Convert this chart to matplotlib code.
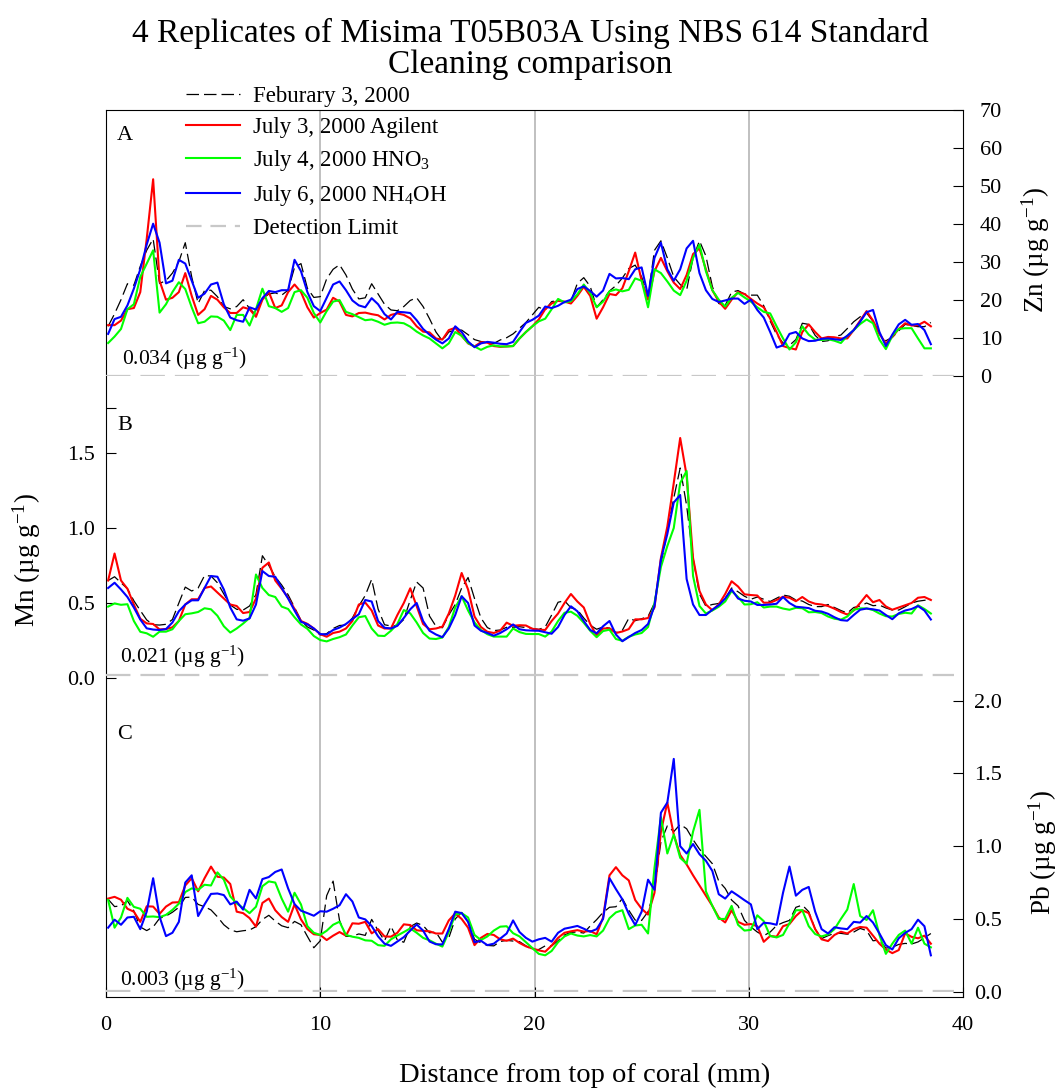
import numpy as np
import matplotlib
matplotlib.use("Agg")
from matplotlib import pyplot as plt
from matplotlib.lines import Line2D

plt.rcParams['font.family'] = ['Liberation Serif', 'DejaVu Serif']
plt.rcParams['mathtext.fontset'] = 'custom'
plt.rcParams['mathtext.rm'] = 'Liberation Serif'
plt.rcParams['mathtext.it'] = 'Liberation Serif:italic'
plt.rcParams['mathtext.bf'] = 'Liberation Serif:bold'

# sampling positions along the coral (mm)
depth = np.round(0.1 + 0.3 * np.arange(129), 1)

series_labels = ['Feburary 3, 2000', 'July 3, 2000 Agilent',
                 'July 4, 2000 HNO$_3$', 'July 6, 2000 NH$_4$OH', 'Detection Limit']

# Zn (ug/g)
zn_feb = [13, 16.3, 20, 24.2, 23.8, 28.8, 33, 36, 24.3, 25, 27, 30, 35, 26, 19, 22.4, 22.5, 20.8, 18.2, 17.6,
          18.2, 20, 17.7, 16, 20.2, 21.5, 21.8, 21.2, 22.5, 28.5, 29.5, 23, 20.6, 20.8, 25.5, 28, 29.2, 26.5, 22.8, 20.2,
          20.5, 24.2, 21.5, 18.8, 17.3, 17.1, 18.2, 19.8, 20.5, 18.2, 15, 11.5, 9.2, 11.5, 12, 12, 10.8, 9.5, 9, 8.7,
          8.5, 9.4, 10, 11, 12.5, 14, 16, 18, 17.3,
          19.5, 19.8, 19.3, 19.6, 24.3, 25.8, 23.5, 18, 20, 22.3, 23.7, 25.7, 28.2, 29.1, 26, 21, 33, 35.5, 31, 26,
          24, 22.5, 31, 35.5, 31.5, 23.5, 19, 18.5, 22, 22.4, 21.5, 21.2, 21.2, 18.4, 14.4, 10.8, 8.6, 8, 9.5, 13.8,
          13.5, 10.6, 9, 9.2, 10.3, 10.7, 12.4, 14.2, 15.5, 16.5, 14.3, 10.9, 9.2, 10.1, 11.8, 13.5, 13.2, 12.9, 12.9, 14]
zn_jul3 = [13.3, 13.3, 14.5, 17.5, 17.8, 22, 36, 51.7, 25, 20, 20.5, 22, 27, 21, 16, 17.5, 21, 20, 18, 16.5,
           16.5, 18, 17.5, 15.5, 20, 22, 17.8, 18.5, 22, 24, 22, 18, 15.3, 16.5, 17.4, 20.5, 19.5, 16, 15.6, 16.5,
           16.6, 16.2, 15.9, 14.8, 16, 16.4, 16, 15.1, 13, 11.6, 11.4, 9.8, 9.5, 12, 12.6, 10.5, 8.5, 7.7, 8.8, 8.7,
           7.8, 7.6, 7.7, 7.8, 9.8, 11.5, 13, 14.8, 17.5,
           19, 19.7, 19.5, 19, 21, 23.4, 21, 15, 18, 21.5, 21.2, 23, 27.5, 32.4, 25, 20, 27.5, 31, 27.5, 24.5,
           22.8, 26.5, 32, 33.5, 28, 22.5, 19.5, 17.6, 20, 22, 21.5, 20.2, 19, 18, 15, 11.5, 7.8, 7.3, 6.9, 11.5,
           13.5, 11.5, 9.8, 10.2, 10.1, 9.8, 9.8, 12, 14.5, 17, 14.5, 11, 8.5, 10.2, 12.3, 13.8, 13.2, 13.3, 14.2, 13]
zn_jul4 = [8.6, 10.3, 12.3, 17.5, 18.8, 26, 29.5, 33, 16.6, 18.8, 22, 24.6, 22.8, 18, 13.8, 14.2, 15.6, 15.5, 14.5, 12,
           16, 16, 13.2, 17.5, 22.9, 18.3, 17.8, 16.8, 17.8, 22, 22.5, 20.5, 16.5, 14, 17, 19.5, 19.9, 16.8, 16.2, 15.4,
           14.6, 14.8, 14.2, 13.4, 13.9, 14, 13.8, 12.9, 11.6, 10.6, 9.8, 8.5, 7.2, 8.5, 11.5, 10.5, 8.6, 7.7, 6.8, 7.6,
           8, 7.7, 7.7, 7.8, 9.8, 11.5, 13, 14.3, 15,
           17.5, 20.2, 19.3, 19.6, 21.4, 24, 21.8, 18, 19.5, 22.2, 22.7, 22.2, 22.6, 25.6, 25, 18, 28, 27, 24.8, 22.4,
           21.2, 25, 31, 34.5, 27.5, 22.5, 20, 18.2, 20.5, 21.8, 20.6, 19.5, 18, 16.8, 16.4, 13, 9.8, 6.9, 8.8, 13,
           10.8, 9.5, 9.4, 9.6, 9.2, 8.6, 10.5, 12, 13.6, 14.8, 13.8, 9.5, 7, 10.5, 12.3, 12.5, 12.5, 9.8, 7.2, 7.2]
zn_jul6 = [11, 14.9, 15.5, 18.5, 22.9, 28, 34.5, 40, 35, 24.3, 25, 30.5, 29.5, 25, 20.5, 21.6, 24, 24.5, 18.8, 15.3,
           14.6, 14.2, 18, 17.4, 20.4, 22.3, 22, 22.5, 22.5, 30.5, 27.5, 22, 18.3, 17, 20.5, 24, 24.8, 22.5, 19.8, 18.5,
           18, 20.4, 18.8, 16.2, 14.8, 16.8, 16.7, 16.5, 14.6, 12.3, 10.8, 9.5, 8.5, 9.8, 13, 11.5, 9, 7.5, 8.5, 8.9,
           8.7, 8.4, 8.3, 8.9, 11.5, 13.9, 14.7, 15.8, 18.2,
           17.8, 18.4, 19.4, 20, 22.8, 23.5, 22.3, 20.8, 22.4, 26.8, 25.6, 25.7, 25.4, 28, 28.5, 21, 31, 35, 28, 25,
           28, 33.5, 35.5, 27, 22.5, 20.2, 19.4, 19.8, 20.3, 20.3, 18.9, 20, 17.3, 15.3, 11.5, 7.4, 8, 11, 11.5, 9.8,
           9.1, 9.2, 9.7, 9.8, 9.6, 9.4, 10.5, 12, 14.2, 16.7, 17.3, 11.5, 7.8, 10.8, 13.5, 14.7, 13.4, 13.6, 12, 8.3]

# Mn (ug/g)
mn_feb = [0.65, 0.675, 0.635, 0.595, 0.515, 0.45, 0.387, 0.355, 0.353, 0.358, 0.39, 0.5, 0.606, 0.58, 0.6, 0.683, 0.68, 0.635, 0.56, 0.487,
          0.458, 0.453, 0.48, 0.557, 0.815, 0.75, 0.675, 0.62, 0.555, 0.47, 0.385, 0.34, 0.32, 0.287, 0.296, 0.33, 0.35, 0.353, 0.4, 0.48,
          0.55, 0.658, 0.46, 0.355, 0.347, 0.35, 0.39, 0.52, 0.64, 0.6, 0.413, 0.345, 0.335, 0.42, 0.49, 0.6, 0.67, 0.53, 0.4, 0.336,
          0.316, 0.32, 0.338, 0.338, 0.342, 0.336, 0.33, 0.324, 0.34,
          0.42, 0.505, 0.515, 0.468, 0.455, 0.4, 0.352, 0.325, 0.34, 0.332, 0.303, 0.318, 0.398, 0.382, 0.395, 0.41, 0.5, 0.76, 0.98, 1.2,
          1.4, 1.15, 0.8, 0.56, 0.478, 0.49, 0.497, 0.53, 0.6, 0.575, 0.545, 0.525, 0.54, 0.525, 0.51, 0.532, 0.553, 0.545, 0.52, 0.513,
          0.49, 0.476, 0.476, 0.49, 0.47, 0.45, 0.433, 0.47, 0.48, 0.5, 0.482, 0.486, 0.467, 0.453, 0.453, 0.475, 0.5, 0.512, 0.518, 0.525]
mn_jul3 = [0.65, 0.83, 0.65, 0.595, 0.49, 0.395, 0.364, 0.36, 0.324, 0.326, 0.338, 0.38, 0.49, 0.525, 0.525, 0.6, 0.61, 0.57, 0.53, 0.49,
           0.48, 0.433, 0.44, 0.53, 0.735, 0.77, 0.65, 0.595, 0.535, 0.46, 0.38, 0.361, 0.33, 0.292, 0.275, 0.3, 0.309, 0.33, 0.38, 0.49,
           0.503, 0.45, 0.35, 0.33, 0.33, 0.42, 0.5, 0.598, 0.48, 0.36, 0.325, 0.33, 0.342, 0.43, 0.55, 0.7, 0.59, 0.41, 0.34, 0.308,
           0.3, 0.316, 0.369, 0.348, 0.352, 0.35, 0.328, 0.322, 0.32,
           0.38, 0.43, 0.5, 0.56, 0.51, 0.47, 0.36, 0.283, 0.33, 0.331, 0.3, 0.31, 0.326, 0.391, 0.391, 0.4, 0.47, 0.8, 1.01, 1.3,
           1.6, 1.35, 0.8, 0.58, 0.49, 0.452, 0.49, 0.56, 0.645, 0.61, 0.558, 0.553, 0.55, 0.502, 0.502, 0.52, 0.542, 0.535, 0.512, 0.54,
           0.51, 0.495, 0.49, 0.48, 0.462, 0.44, 0.423, 0.45, 0.5, 0.553, 0.505, 0.52, 0.477, 0.455, 0.47, 0.485, 0.5, 0.535, 0.54, 0.52]
mn_jul4 = [0.476, 0.497, 0.488, 0.492, 0.38, 0.308, 0.298, 0.275, 0.309, 0.309, 0.325, 0.38, 0.425, 0.431, 0.44, 0.465, 0.458, 0.415, 0.345, 0.303,
           0.33, 0.363, 0.4, 0.69, 0.6, 0.553, 0.54, 0.476, 0.46, 0.405, 0.357, 0.328, 0.28, 0.253, 0.244, 0.26, 0.272, 0.29, 0.35, 0.405,
           0.413, 0.33, 0.282, 0.28, 0.315, 0.36, 0.453, 0.431, 0.37, 0.3, 0.263, 0.26, 0.27, 0.34, 0.47, 0.545, 0.45, 0.37, 0.32, 0.292,
           0.276, 0.276, 0.276, 0.33, 0.306, 0.294, 0.293, 0.293, 0.276,
           0.31, 0.38, 0.435, 0.442, 0.415, 0.368, 0.315, 0.272, 0.313, 0.322, 0.26, 0.248, 0.275, 0.29, 0.3, 0.34, 0.5, 0.74, 0.88, 1.0,
           1.3, 1.38, 0.68, 0.48, 0.43, 0.45, 0.475, 0.51, 0.58, 0.54, 0.49, 0.492, 0.505, 0.47, 0.476, 0.476, 0.463, 0.455, 0.468, 0.465,
           0.438, 0.44, 0.433, 0.41, 0.395, 0.389, 0.41, 0.455, 0.464, 0.464, 0.453, 0.43, 0.412, 0.41, 0.427, 0.435, 0.43, 0.485, 0.46, 0.43]
mn_jul6 = [0.6, 0.635, 0.59, 0.54, 0.47, 0.39, 0.331, 0.323, 0.32, 0.326, 0.37, 0.445, 0.49, 0.518, 0.518, 0.6, 0.68, 0.675, 0.59, 0.47,
           0.391, 0.382, 0.397, 0.49, 0.713, 0.68, 0.675, 0.6, 0.53, 0.45, 0.375, 0.358, 0.33, 0.293, 0.29, 0.32, 0.336, 0.36, 0.393, 0.425,
           0.52, 0.51, 0.38, 0.335, 0.33, 0.348, 0.4, 0.458, 0.5, 0.38, 0.315, 0.29, 0.272, 0.33, 0.42, 0.545, 0.5, 0.35, 0.315, 0.3,
           0.282, 0.3, 0.325, 0.357, 0.325, 0.318, 0.316, 0.315, 0.305,
           0.295, 0.34, 0.42, 0.478, 0.445, 0.38, 0.32, 0.298, 0.345, 0.38, 0.29, 0.245, 0.273, 0.3, 0.32, 0.36, 0.48, 0.79, 0.96, 1.17,
           1.22, 0.66, 0.49, 0.42, 0.42, 0.455, 0.485, 0.53, 0.59, 0.53, 0.515, 0.51, 0.487, 0.487, 0.49, 0.495, 0.54, 0.5, 0.475, 0.471,
           0.466, 0.448, 0.443, 0.428, 0.405, 0.386, 0.382, 0.42, 0.455, 0.463, 0.458, 0.45, 0.42, 0.392, 0.431, 0.45, 0.46, 0.48, 0.45, 0.39]

# Pb (ug/g)
pb_feb = [0.635, 0.585, 0.59, 0.625, 0.555, 0.445, 0.42, 0.445, 0.504, 0.52, 0.546, 0.58, 0.648, 0.65, 0.6, 0.584, 0.562, 0.515, 0.46, 0.425,
          0.412, 0.419, 0.424, 0.447, 0.496, 0.525, 0.485, 0.453, 0.44, 0.483, 0.46, 0.38, 0.302, 0.35, 0.66, 0.76, 0.49, 0.38, 0.382, 0.397,
          0.387, 0.497, 0.42, 0.35, 0.45, 0.355, 0.34, 0.447, 0.472, 0.455, 0.405, 0.41, 0.34, 0.37, 0.5, 0.545, 0.48, 0.36, 0.336, 0.318,
          0.315, 0.345, 0.353, 0.348, 0.344, 0.315, 0.288, 0.29, 0.315,
          0.315, 0.35, 0.39, 0.408, 0.41, 0.403, 0.452, 0.495, 0.545, 0.58, 0.584, 0.64, 0.56, 0.492, 0.49, 0.55, 0.7, 1.03, 1.14, 1.1,
          1.15, 1.12, 1.045, 0.98, 0.93, 0.88, 0.76, 0.71, 0.63, 0.59, 0.49, 0.445, 0.41, 0.385, 0.41, 0.455, 0.475, 0.49, 0.58, 0.595,
          0.55, 0.43, 0.365, 0.385, 0.401, 0.401, 0.395, 0.41, 0.435, 0.42, 0.35, 0.355, 0.3, 0.305, 0.325, 0.332, 0.328, 0.342, 0.37, 0.4]
pb_jul3 = [0.64, 0.652, 0.632, 0.57, 0.55, 0.48, 0.587, 0.585, 0.535, 0.585, 0.613, 0.615, 0.73, 0.78, 0.69, 0.78, 0.86, 0.79, 0.785, 0.74,
           0.55, 0.54, 0.506, 0.447, 0.61, 0.64, 0.56, 0.513, 0.48, 0.6, 0.497, 0.43, 0.395, 0.39, 0.355, 0.385, 0.41, 0.385, 0.47, 0.467,
           0.48, 0.401, 0.43, 0.38, 0.378, 0.405, 0.463, 0.458, 0.422, 0.418, 0.415, 0.4, 0.4, 0.49, 0.538, 0.5, 0.44, 0.32, 0.37, 0.397,
           0.39, 0.36, 0.35, 0.365, 0.335, 0.312, 0.297, 0.284, 0.275,
           0.317, 0.37, 0.405, 0.415, 0.423, 0.413, 0.417, 0.395, 0.51, 0.8, 0.856, 0.8, 0.765, 0.63, 0.57, 0.53, 0.68, 1.1, 1.3, 1.08,
           0.94, 0.875, 0.8, 0.73, 0.66, 0.59, 0.51, 0.476, 0.56, 0.48, 0.46, 0.465, 0.45, 0.343, 0.383, 0.378, 0.45, 0.465, 0.52, 0.56,
           0.54, 0.43, 0.36, 0.348, 0.39, 0.412, 0.4, 0.43, 0.445, 0.44, 0.385, 0.33, 0.29, 0.265, 0.286, 0.401, 0.377, 0.367, 0.385, 0.33]
pb_jul4 = [0.63, 0.44, 0.51, 0.645, 0.583, 0.57, 0.515, 0.517, 0.512, 0.528, 0.562, 0.605, 0.685, 0.71, 0.7, 0.735, 0.73, 0.82, 0.77, 0.655,
           0.607, 0.575, 0.54, 0.584, 0.725, 0.758, 0.75, 0.64, 0.55, 0.68, 0.6, 0.45, 0.405, 0.39, 0.419, 0.46, 0.481, 0.39, 0.378, 0.37,
           0.353, 0.35, 0.32, 0.315, 0.36, 0.386, 0.41, 0.435, 0.405, 0.37, 0.353, 0.33, 0.31, 0.41, 0.53, 0.54, 0.51, 0.39, 0.355, 0.38,
           0.42, 0.447, 0.45, 0.402, 0.38, 0.34, 0.3, 0.26, 0.25,
           0.28, 0.34, 0.38, 0.4, 0.386, 0.38, 0.389, 0.38, 0.42, 0.505, 0.545, 0.56, 0.43, 0.455, 0.46, 0.4, 0.85, 1.2, 0.95, 1.08,
           0.92, 0.88, 1.1, 1.25, 0.69, 0.59, 0.5, 0.5, 0.59, 0.46, 0.42, 0.425, 0.525, 0.485, 0.383, 0.373, 0.39, 0.47, 0.56, 0.56,
           0.45, 0.396, 0.38, 0.393, 0.43, 0.5, 0.565, 0.74, 0.52, 0.493, 0.56, 0.39, 0.26, 0.33, 0.39, 0.42, 0.33, 0.44, 0.33, 0.305]
pb_jul6 = [0.44, 0.495, 0.46, 0.51, 0.515, 0.43, 0.55, 0.78, 0.515, 0.382, 0.405, 0.48, 0.75, 0.8, 0.52, 0.6, 0.672, 0.675, 0.664, 0.6,
           0.619, 0.564, 0.7, 0.641, 0.774, 0.788, 0.823, 0.84, 0.71, 0.602, 0.557, 0.54, 0.522, 0.553, 0.55, 0.57, 0.594, 0.67, 0.62, 0.51,
           0.497, 0.451, 0.38, 0.33, 0.315, 0.345, 0.375, 0.42, 0.462, 0.42, 0.345, 0.326, 0.325, 0.43, 0.55, 0.54, 0.48, 0.34, 0.35, 0.32,
           0.33, 0.365, 0.4, 0.49, 0.41, 0.37, 0.344, 0.36, 0.37,
           0.344, 0.405, 0.433, 0.442, 0.452, 0.433, 0.412, 0.43, 0.5, 0.78, 0.705, 0.635, 0.535, 0.458, 0.55, 0.77, 0.7, 1.23, 1.3, 1.6,
           1.0, 0.95, 1.015, 0.945, 0.9, 0.83, 0.67, 0.64, 0.69, 0.66, 0.629, 0.6, 0.43, 0.474, 0.47, 0.46, 0.68, 0.86, 0.66, 0.7,
           0.72, 0.55, 0.43, 0.4, 0.443, 0.435, 0.43, 0.48, 0.475, 0.52, 0.475, 0.4, 0.32, 0.29, 0.367, 0.404, 0.43, 0.495, 0.45, 0.25]

detection = {'zn': 0.034, 'mn': 0.021, 'pb': 0.003}

W, H = 1063, 1091
fig = plt.figure(figsize=(W / 100, H / 100), dpi=100)


def box(left, top, right, bottom):
    # pixel box -> figure fraction
    return [left / W, 1 - bottom / H, (right - left) / W, (bottom - top) / H]


frame = fig.add_axes(box(106, 110, 963, 997))
frame.set_xlim(0, 40)
frame.set_ylim(0, 1)
frame.set_yticks([])
frame.set_xticks([0, 10, 20, 30, 40])
frame.tick_params(axis='x', direction='in', length=7, pad=14, labelsize=16)
for g in [10, 20, 30]:
    frame.axvline(g, color='#c0c0c0', lw=1.4, zorder=0)
frame.set_xlabel('Distance from top of coral (mm)', fontsize=20.5)
frame.xaxis.set_label_coords((585 - 106) / 857, -(1075 - 997) / 887)
frame.xaxis.label.set_va('center')


def panel(top, bottom, ymax):
    ax = fig.add_axes(box(106, top, 963, bottom))
    ax.patch.set_alpha(0)
    for s in ax.spines.values():
        s.set_visible(False)
    ax.set_xlim(0, 40)
    ax.set_ylim(0, ymax)
    ax.set_xticks([])
    ax.tick_params(axis='y', direction='in', length=7, labelsize=16)
    return ax


def draw(ax, feb, jul3, jul4, jul6, dl):
    ax.plot(depth, feb, color='black', lw=0.9, dashes=(10, 4))
    ax.plot(depth, jul3, color='#ff0000', lw=1.5)
    ax.plot(depth, jul4, color='#00ff00', lw=1.5)
    ax.plot(depth, jul6, color='#0000ff', lw=1.5)
    ax.axhline(dl, xmax=0.99, color='#c8c8c8', lw=1.6, dashes=(11, 4.5))


axA = panel(109.7, 375.7, 70)
axA.yaxis.tick_right()
axA.set_yticks(range(0, 71, 10))
axA.tick_params(axis='y', pad=12)
draw(axA, zn_feb, zn_jul3, zn_jul4, zn_jul6, detection['zn'])

axB = panel(408, 678, 1.8)
axB.set_yticks([0, 0.5, 1.0, 1.5, 1.8])
axB.set_yticklabels(['0.0', '0.5', '1.0', '1.5', ''])
axB.tick_params(axis='y', pad=8)
draw(axB, mn_feb, mn_jul3, mn_jul4, mn_jul6, detection['mn'])

axC = panel(700.7, 991.7, 2.0)
axC.yaxis.tick_right()
axC.set_yticks([0, 0.5, 1.0, 1.5, 2.0])
axC.set_yticklabels(['0.0', '0.5', '1.0', '1.5', '2.0'])
axC.tick_params(axis='y', pad=8)
draw(axC, pb_feb, pb_jul3, pb_jul4, pb_jul6, detection['pb'])

# axis titles
fig.text(1036 / W, 1 - 250 / H, 'Zn (µg g$^{-1}$)', rotation=90, ha='center', va='center', fontsize=19.5)
fig.text(27 / W, 1 - 560 / H, 'Mn (µg g$^{-1}$)', rotation=90, ha='center', va='center', fontsize=19.5)
fig.text(1043 / W, 1 - 853 / H, 'Pb (µg g$^{-1}$)', rotation=90, ha='center', va='center', fontsize=19.5)

# panel letters
axA.text(11 / 857, 0.94, 'A', transform=axA.transAxes, fontsize=16, va='top', ha='left')
axB.text(11 / 857, 0.97, 'B', transform=axB.transAxes, fontsize=16, va='top', ha='left')
axC.text(11 / 857, 0.915, 'C', transform=axC.transAxes, fontsize=16, va='top', ha='left')

axA.text(0.019, 0.062, '0.034 (µg g$^{-1}$)', transform=axA.transAxes, fontsize=15.5, va='center')
axB.text(0.016, 0.08, '0.021 (µg g$^{-1}$)', transform=axB.transAxes, fontsize=15.5, va='center')
axC.text(0.016, 0.042, '0.003 (µg g$^{-1}$)', transform=axC.transAxes, fontsize=15.5, va='center')

handles = [Line2D([], [], color='black', lw=0.9, dashes=(10, 4)),
           Line2D([], [], color='#ff0000', lw=1.5),
           Line2D([], [], color='#00ff00', lw=1.5),
           Line2D([], [], color='#0000ff', lw=1.5),
           Line2D([], [], color='#c8c8c8', lw=1.6, dashes=(7, 4))]
fig.legend(handles, series_labels, loc='upper left', bbox_to_anchor=(186 / W, 1 - 86 / H),
           frameon=False, fontsize=16.5, handlelength=2.35, handletextpad=0.56,
           labelspacing=0.44, borderpad=0, borderaxespad=0)

fig.text(530 / W, 1 - 33 / H, '4 Replicates of Misima T05B03A Using NBS 614 Standard',
         ha='center', va='center', fontsize=24)
fig.text(530 / W, 1 - 65 / H, 'Cleaning comparison', ha='center', va='center', fontsize=24)

fig.savefig('out.png', dpi=100)
